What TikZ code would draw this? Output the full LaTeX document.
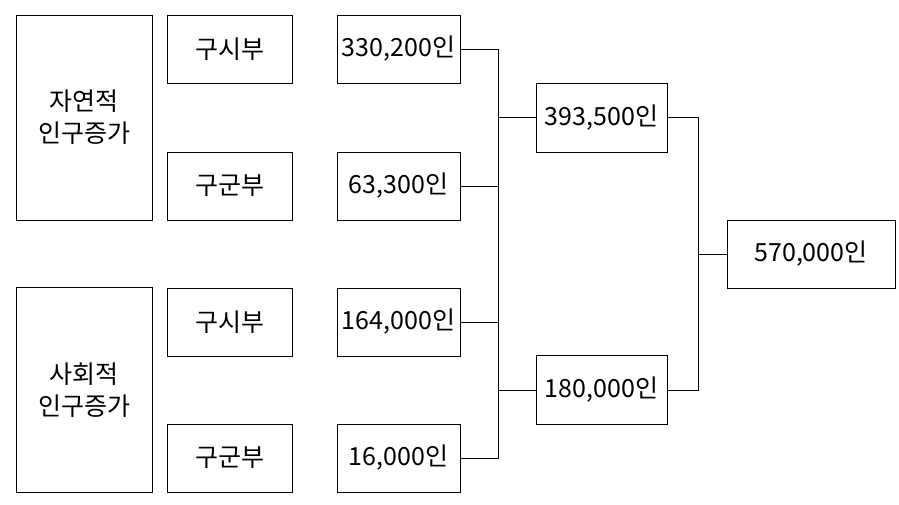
\documentclass[tikz,border=0pt]{standalone}
\usepackage{fontspec}
\setmainfont{Noto Sans CJK KR}
\usepackage{tikz}
\usetikzlibrary{positioning}

\begin{document}
\begin{tikzpicture}[x=1pt, y=-1pt, line width=0.9pt]

\useasboundingbox (0,0) rectangle (899,504);

\tikzstyle{box} = [
    rectangle, draw=black, line width=0.9pt, inner sep=0pt, align=center,
    font=\fontsize{25}{32}\selectfont]
\tikzstyle{bigbox} = [box, minimum width=136pt, minimum height=205pt]
\tikzstyle{areabox} = [box, minimum width=125pt, minimum height=68pt]
\tikzstyle{numbox} = [box, minimum width=123pt, minimum height=68pt]
\tikzstyle{sumbox} = [box, minimum width=131pt, minimum height=69pt]

% kinds of growth
\node[bigbox] at (84,117.5) (natural) {자연적\\인구증가};
\node[bigbox] at (84,390) (social) {사회적\\인구증가};

% city / county
\node[areabox] at (229.5,49) (natcity) {구시부};
\node[areabox] at (229.5,186) (natcounty) {구군부};
\node[areabox] at (229.5,322) (soccity) {구시부};
\node[areabox] at (229.5,458) (soccounty) {구군부};

% numbers
\node[numbox] at (398.5,49) (natcitynum) {330,200인};
\node[numbox] at (398.5,186) (natcountynum) {63,300인};
\node[numbox] at (398.5,322) (soccitynum) {164,000인};
\node[numbox] at (398.5,458) (soccountynum) {16,000인};

\node[sumbox] at (601.5,117.5) (natsum) {393,500인};
\node[sumbox] at (601.5,390) (socsum) {180,000인};

\node[box, minimum width=168pt, minimum height=68pt] at (811,254) (total) {570,000인};

\coordinate (busa) at (498,0);
\coordinate (busb) at (698,0);

\draw (natcitynum.east) -| (busa |- soccountynum.east) -- (soccountynum.east);
\draw (natcountynum.east) -- (natcountynum.east -| busa);
\draw (soccitynum.east) -- (soccitynum.east -| busa);
\draw (natsum.west) -- (natsum.west -| busa);
\draw (socsum.west) -- (socsum.west -| busa);

\draw (natsum.east) -| (busb |- socsum.east) -- (socsum.east);
\draw (total.west) -- (total.west -| busb);

\end{tikzpicture}
\end{document}
